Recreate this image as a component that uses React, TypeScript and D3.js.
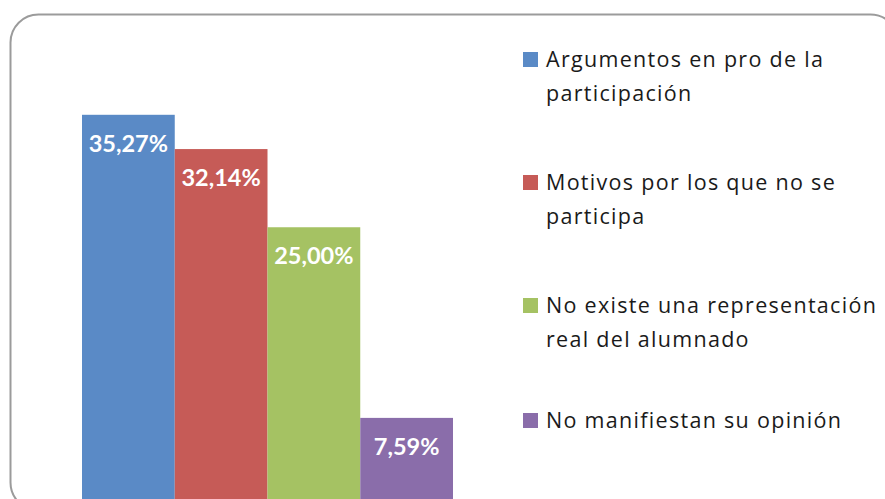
import React from "react";
import * as d3 from "d3";

const categories = [
  "Argumentos en pro de la participación",
  "Motivos por los que no se participa",
  "No existe una representación real del alumnado",
  "No manifiestan su opinión",
];
const values = [35.27, 32.14, 25.0, 7.59];
const valueLabels = ["35,27%", "32,14%", "25,00%", "7,59%"];
const legendLines = [
  ["Argumentos en pro de la", "participación"],
  ["Motivos por los que no se", "participa"],
  ["No existe una representación", "real del alumnado"],
  ["No manifiestan su opinión"],
];
const colors = ["#5A8AC6", "#C65B57", "#A5C263", "#8A6DAA"];

export default function App() {
  const W = 885;
  const H = 499;
  const x = d3.scaleBand<string>().domain(categories).range([82, 453]).padding(0);
  const y = d3.scaleLinear().domain([0, 40]).range([501, 63]);
  const legendBase = [67, 190, 313, 428];

  return (
    <svg
      width={W}
      height={H}
      style={{ position: "absolute", left: 0, top: 0, display: "block" }}
      fontFamily="Lato, 'Open Sans', sans-serif"
    >
      <rect x={0} y={0} width={W} height={H} fill="#ffffff" />
      <rect
        x={10.5}
        y={14.5}
        width={888}
        height={496}
        rx={28}
        ry={28}
        fill="#ffffff"
        stroke="#9b9b9b"
        strokeWidth={2}
      />
      {categories.map((c, i) => {
        const bx = x(c)!;
        const by = y(values[i]);
        return (
          <g key={c}>
            <rect
              x={bx}
              y={by}
              width={x.bandwidth()}
              height={y(0) - by}
              fill={colors[i]}
            />
            <text
              x={bx + x.bandwidth() / 2}
              y={by + 37}
              textAnchor="middle"
              fill="#ffffff"
              fontWeight="bold"
              fontSize={23.5}
            >
              {valueLabels[i]}
            </text>
          </g>
        );
      })}
      {legendLines.map((lines, i) => (
        <g key={i}>
          <rect x={523} y={legendBase[i] - 15} width={15} height={15} fill={colors[i]} />
          {lines.map((ln, j) => (
            <text
              key={j}
              x={546}
              y={legendBase[i] + j * 34}
              fill="#1a1a1a"
              fontSize={21.5}
              letterSpacing={1.3}
              fontFamily="'Open Sans', sans-serif"
            >
              {ln}
            </text>
          ))}
        </g>
      ))}
    </svg>
  );
}
